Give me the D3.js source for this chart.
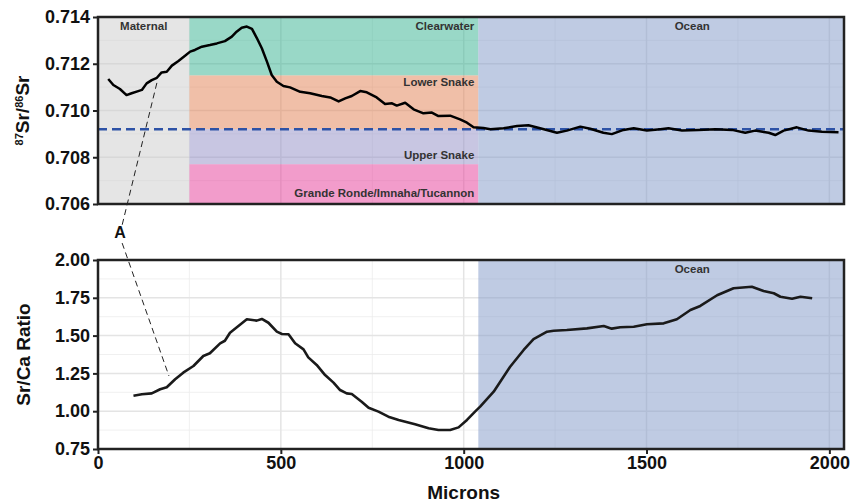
<!DOCTYPE html>
<html>
<head>
<meta charset="utf-8">
<script src="https://cdn.jsdelivr.net/npm/d3@7"></script>
<style>
  body { margin: 0; background: #fff; }
  text { font-family: "Liberation Sans", Arial, Helvetica, sans-serif; }
</style>
</head>
<body>
<div id="chart"></div>
<script>
// ---- data ----
const srMicrons = [28, 42, 60, 78, 92, 110, 120, 133, 147, 161, 174, 188, 202, 220, 238, 252, 265, 284, 306, 325, 347, 366, 379, 393, 407, 421, 434, 448, 462, 475, 489, 507, 525, 553, 580, 612, 635, 658, 676, 694, 717, 735, 762, 785, 804, 817, 840, 863, 890, 913, 931, 963, 990, 1009, 1027, 1054, 1073, 1109, 1146, 1177, 1209, 1255, 1282, 1319, 1346, 1382, 1405, 1437, 1465, 1501, 1538, 1560, 1597, 1642, 1688, 1734, 1770, 1797, 1834, 1852, 1875, 1911, 1943, 1980, 2025];
const srRatio = [0.71135, 0.71109, 0.71092, 0.71066, 0.71074, 0.71083, 0.71088, 0.71116, 0.71130, 0.71140, 0.71163, 0.71166, 0.71192, 0.71212, 0.71234, 0.71252, 0.71259, 0.71273, 0.71280, 0.71287, 0.71297, 0.71316, 0.71337, 0.71354, 0.71359, 0.71349, 0.71311, 0.71266, 0.71209, 0.71152, 0.71123, 0.71105, 0.71099, 0.71080, 0.71074, 0.71062, 0.71056, 0.71039, 0.71052, 0.71062, 0.71083, 0.71078, 0.71056, 0.71028, 0.71031, 0.71021, 0.71033, 0.71005, 0.70988, 0.70991, 0.70976, 0.70978, 0.70962, 0.70948, 0.70928, 0.70925, 0.70920, 0.70924, 0.70934, 0.70937, 0.70924, 0.70905, 0.70914, 0.70931, 0.70922, 0.70905, 0.70899, 0.70917, 0.70924, 0.70914, 0.70920, 0.70924, 0.70914, 0.70917, 0.70920, 0.70917, 0.70905, 0.70914, 0.70905, 0.70895, 0.70914, 0.70928, 0.70914, 0.70909, 0.70907];

const caMicrons = [97, 120, 147, 170, 188, 211, 233, 261, 288, 306, 334, 347, 361, 384, 407, 434, 448, 466, 489, 503, 521, 539, 562, 575, 598, 621, 644, 662, 680, 694, 721, 740, 767, 794, 822, 867, 904, 931, 963, 986, 1009, 1031, 1045, 1082, 1127, 1164, 1191, 1228, 1246, 1282, 1337, 1383, 1405, 1428, 1465, 1501, 1547, 1583, 1620, 1647, 1693, 1738, 1788, 1820, 1848, 1866, 1898, 1921, 1953];
const caRatio = [1.102, 1.112, 1.118, 1.145, 1.158, 1.211, 1.255, 1.299, 1.365, 1.383, 1.449, 1.466, 1.519, 1.563, 1.608, 1.599, 1.610, 1.585, 1.526, 1.511, 1.509, 1.449, 1.409, 1.356, 1.306, 1.239, 1.189, 1.140, 1.118, 1.114, 1.063, 1.023, 0.997, 0.964, 0.942, 0.913, 0.887, 0.876, 0.876, 0.893, 0.942, 0.997, 1.030, 1.129, 1.294, 1.405, 1.476, 1.526, 1.532, 1.537, 1.548, 1.563, 1.546, 1.555, 1.559, 1.575, 1.581, 1.608, 1.669, 1.696, 1.767, 1.813, 1.823, 1.795, 1.780, 1.757, 1.744, 1.757, 1.747];

const oceanSr = 0.7092;

// source regions: name, x from, x to, y from, y to
const regionNames = ["Maternal", "Clearwater", "Lower Snake", "Upper Snake", "Grande Ronde/Imnaha/Tucannon", "Ocean"];
const regionX0 = [0, 250, 250, 250, 250, 1040];
const regionX1 = [250, 1040, 1040, 1040, 1040, 2040];
const regionY0 = [0.706, 0.7115, 0.7092, 0.7077, 0.706, 0.706];
const regionY1 = [0.714, 0.714, 0.7115, 0.7092, 0.7077, 0.714];
const regionColors = ["#cbcbcb", "#33b18f", "#e17f51", "#918dc5", "#e53997", "#7f97c7"];

const srTicks = [0.706, 0.708, 0.710, 0.712, 0.714];
const caTicks = [0.75, 1.00, 1.25, 1.50, 1.75, 2.00];
const micronTicks = [0, 500, 1000, 1500, 2000];

// annotation "A": dashed link between panels
const annoTopLine = [[161, 0.71118], [66, 0.7051]];
const annoBottomLine = [[66, 2.112], [194, 1.233]];
const annoLabel = [60, 2.18];

// ---- layout ----
const W = 856, H = 503;
const left = 98, right = 844;

const svg = d3.select("#chart").append("svg")
  .attr("width", W)
  .attr("height", H);

const x = d3.scaleLinear().domain([0, 2040]).range([left, right]);
const ySr = d3.scaleLinear().domain([0.706, 0.714]).range([204, 17]);
const yCa = d3.scaleLinear().domain([0.75, 2.00]).range([449, 260]);

function grid(g, y, majorY, minorY) {
  const y0 = y.range()[1], y1 = y.range()[0];
  g.append("rect").attr("x", left).attr("y", y0)
    .attr("width", right - left).attr("height", y1 - y0)
    .attr("fill", "#fff");
  g.selectAll(".hmin").data(minorY).enter().append("line")
    .attr("x1", left).attr("x2", right)
    .attr("y1", d => y(d)).attr("y2", d => y(d))
    .attr("stroke", "#ececec").attr("stroke-width", 0.8);
  g.selectAll(".vmin").data([250, 750, 1250, 1750]).enter().append("line")
    .attr("x1", d => x(d)).attr("x2", d => x(d))
    .attr("y1", y0).attr("y2", y1)
    .attr("stroke", "#ececec").attr("stroke-width", 0.8);
  g.selectAll(".hmaj").data(majorY).enter().append("line")
    .attr("x1", left).attr("x2", right)
    .attr("y1", d => y(d)).attr("y2", d => y(d))
    .attr("stroke", "#e4e4e4").attr("stroke-width", 1.5);
  g.selectAll(".vmaj").data(micronTicks).enter().append("line")
    .attr("x1", d => x(d)).attr("x2", d => x(d))
    .attr("y1", y0).attr("y2", y1)
    .attr("stroke", "#e4e4e4").attr("stroke-width", 1.5);
}

function border(g, y) {
  const y0 = y.range()[1], y1 = y.range()[0];
  g.append("rect").attr("x", left).attr("y", y0)
    .attr("width", right - left).attr("height", y1 - y0)
    .attr("fill", "none").attr("stroke", "#222").attr("stroke-width", 2.5);
}

function styleAxis(a) {
  a.select(".domain").remove();
  a.selectAll(".tick line").attr("stroke", "#222").attr("stroke-width", 2);
  a.selectAll(".tick text")
    .attr("fill", "#111")
    .style("font-size", "18px")
    .style("font-weight", "bold");
}

// ---- top panel: 87Sr/86Sr ----
const srPanel = svg.append("g");
grid(srPanel, ySr, srTicks, [0.707, 0.709, 0.711, 0.713]);

srPanel.selectAll(".region").data(regionNames).enter().append("rect")
  .attr("x", (d, i) => x(regionX0[i]))
  .attr("y", (d, i) => ySr(regionY1[i]))
  .attr("width", (d, i) => x(regionX1[i]) - x(regionX0[i]))
  .attr("height", (d, i) => ySr(regionY0[i]) - ySr(regionY1[i]))
  .attr("fill", (d, i) => regionColors[i])
  .attr("fill-opacity", 0.5);

const labStyle = t => t.attr("fill", "#333").style("font-size", "11.5px").style("font-weight", "bold");

srPanel.append("text").attr("x", x(125)).attr("y", 30).attr("text-anchor", "middle")
  .text("Maternal").call(labStyle);
srPanel.append("text").attr("x", x(1625)).attr("y", 30).attr("text-anchor", "middle")
  .text("Ocean").call(labStyle);
srPanel.append("text").attr("x", x(1040) - 4).attr("y", 30).attr("text-anchor", "end")
  .text("Clearwater").call(labStyle);
srPanel.append("text").attr("x", x(1040) - 4).attr("y", 86).attr("text-anchor", "end")
  .text("Lower Snake").call(labStyle);
srPanel.append("text").attr("x", x(1040) - 4).attr("y", 159).attr("text-anchor", "end")
  .text("Upper Snake").call(labStyle);
srPanel.append("text").attr("x", x(1040) - 4).attr("y", 197).attr("text-anchor", "end")
  .text("Grande Ronde/Imnaha/Tucannon").call(labStyle);

srPanel.append("line")
  .attr("x1", left).attr("x2", right)
  .attr("y1", ySr(oceanSr)).attr("y2", ySr(oceanSr))
  .attr("stroke", "#2d52a6").attr("stroke-width", 2.6)
  .attr("stroke-dasharray", "9,5");

const srLine = d3.line().x(d => x(d[0])).y(d => ySr(d[1]));
srPanel.append("path")
  .datum(srMicrons.map((m, i) => [m, srRatio[i]]))
  .attr("d", srLine)
  .attr("fill", "none").attr("stroke", "#000").attr("stroke-width", 2.5)
  .attr("stroke-linejoin", "round");

border(srPanel, ySr);

srPanel.append("g").attr("transform", "translate(" + left + ",0)")
  .call(d3.axisLeft(ySr).tickValues(srTicks).tickFormat(d3.format(".3f")).tickSize(5).tickPadding(3))
  .call(styleAxis);

srPanel.append("text")
  .attr("transform", "translate(29," + ySr(0.710) + ") rotate(-90)")
  .attr("text-anchor", "middle")
  .style("font-size", "19px").style("font-weight", "bold").attr("fill", "#111")
  .call(t => {
    t.append("tspan").attr("baseline-shift", "super").style("font-size", "11px").text("87");
    t.append("tspan").text("Sr/");
    t.append("tspan").attr("baseline-shift", "super").style("font-size", "11px").text("86");
    t.append("tspan").text("Sr");
  });

// ---- bottom panel: Sr/Ca ----
const caPanel = svg.append("g");
grid(caPanel, yCa, caTicks, [0.875, 1.125, 1.375, 1.625, 1.875]);

caPanel.append("rect")
  .attr("x", x(regionX0[5])).attr("y", yCa(2.00))
  .attr("width", x(regionX1[5]) - x(regionX0[5]))
  .attr("height", yCa(0.75) - yCa(2.00))
  .attr("fill", regionColors[5]).attr("fill-opacity", 0.5);

caPanel.append("text").attr("x", x(1625)).attr("y", 273).attr("text-anchor", "middle")
  .text("Ocean").call(labStyle);

const caLine = d3.line().x(d => x(d[0])).y(d => yCa(d[1]));
caPanel.append("path")
  .datum(caMicrons.map((m, i) => [m, caRatio[i]]))
  .attr("d", caLine)
  .attr("fill", "none").attr("stroke", "#1a1a1a").attr("stroke-width", 2.6)
  .attr("stroke-linejoin", "round");

border(caPanel, yCa);

caPanel.append("g").attr("transform", "translate(" + left + ",0)")
  .call(d3.axisLeft(yCa).tickValues(caTicks).tickFormat(d3.format(".2f")).tickSize(5).tickPadding(3))
  .call(styleAxis);

caPanel.append("g").attr("transform", "translate(0," + yCa(0.75) + ")")
  .call(d3.axisBottom(x).tickValues(micronTicks).tickFormat(d3.format("d")).tickSize(5).tickPadding(2))
  .call(styleAxis);

caPanel.append("text")
  .attr("transform", "translate(30," + yCa(1.375) + ") rotate(-90)")
  .attr("text-anchor", "middle")
  .style("font-size", "19px").style("font-weight", "bold").attr("fill", "#111")
  .text("Sr/Ca Ratio");

svg.append("text")
  .attr("x", x(1000)).attr("y", 499)
  .attr("text-anchor", "middle")
  .style("font-size", "19px").style("font-weight", "bold").attr("fill", "#111")
  .text("Microns");

// ---- annotation A ----
svg.append("line")
  .attr("x1", x(annoTopLine[0][0])).attr("y1", ySr(annoTopLine[0][1]))
  .attr("x2", x(annoTopLine[1][0])).attr("y2", ySr(annoTopLine[1][1]))
  .attr("stroke", "#222").attr("stroke-width", 1).attr("stroke-dasharray", "6,4");
svg.append("line")
  .attr("x1", x(annoBottomLine[0][0])).attr("y1", yCa(annoBottomLine[0][1]))
  .attr("x2", x(annoBottomLine[1][0])).attr("y2", yCa(annoBottomLine[1][1]))
  .attr("stroke", "#222").attr("stroke-width", 1).attr("stroke-dasharray", "6,4");
svg.append("text")
  .attr("x", x(annoLabel[0])).attr("y", yCa(annoLabel[1]))
  .attr("text-anchor", "middle").attr("dominant-baseline", "central")
  .style("font-size", "16px").style("font-weight", "bold").attr("fill", "#111")
  .text("A");
</script>
</body>
</html>
